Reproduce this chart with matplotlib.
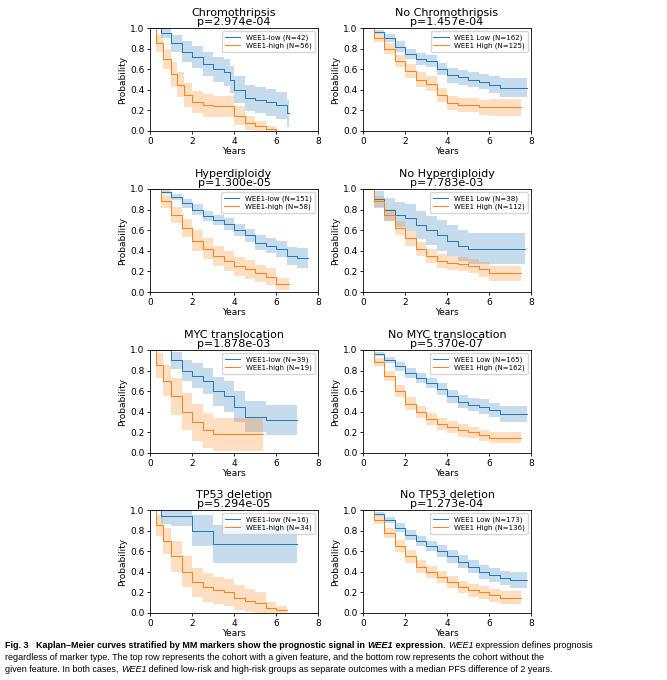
import numpy as np
import matplotlib.pyplot as plt

BLUE = '#1f77b4'
ORANGE = '#ff7f0e'

T8 = [0, .5, 1, 1.5, 2, 2.5, 3, 3.5, 4, 4.5, 5, 5.5, 6, 6.5, 7]

titles = ['Chromothripsis', 'No Chromothripsis', 'Hyperdiploidy', 'No Hyperdiploidy',
          'MYC translocation', 'No MYC translocation', 'TP53 deletion', 'No TP53 deletion']
pvals = ['2.974e-04', '1.457e-04', '1.300e-05', '7.783e-03',
         '1.878e-03', '5.370e-07', '5.294e-05', '1.273e-04']
n_low = [42, 162, 151, 38, 39, 165, 16, 173]
n_high = [56, 125, 58, 112, 19, 162, 34, 136]

# (times, survival, CI half-width)
low_curves = [
    ([0, .5, 1, 1.5, 2, 2.5, 3, 3.5, 3.8, 4, 4.5, 5, 5.5, 6, 6.5, 6.6],
     [1, .95, .85, .77, .72, .65, .6, .57, .5, .4, .32, .3, .28, .25, .17, .17],
     [0, .05, .08, .1, .11, .12, .12, .13, .13, .13, .13, .13, .13, .13, .13, .13]),
    (T8 + [7.8], [1, .96, .9, .82, .75, .7, .68, .6, .54, .52, .5, .48, .45, .42, .42, .42],
     [0, .02, .04, .05, .05, .06, .06, .06, .07, .07, .07, .07, .08, .09, .09, .09]),
    (T8 + [7.5], [1, .97, .92, .86, .8, .74, .7, .66, .6, .55, .48, .45, .42, .35, .33, .33],
     [0, .02, .03, .04, .05, .05, .05, .06, .06, .06, .07, .07, .08, .09, .1, .1]),
    ([0, .5, 1, 1.5, 2, 2.5, 3, 3.5, 4, 4.5, 5, 5.5, 6, 7.7],
     [1, .9, .8, .75, .72, .65, .6, .55, .5, .45, .42, .42, .42, .42],
     [0, .08, .11, .12, .13, .14, .14, .15, .15, .15, .15, .15, .15, .15]),
    ([0, .5, 1, 1.5, 2, 2.5, 3, 3.5, 4, 4.5, 5, 5.5, 6, 7],
     [1, 1, .9, .8, .75, .7, .6, .55, .45, .35, .35, .32, .32, .32],
     [0, 0, .08, .1, .12, .13, .14, .15, .15, .15, .15, .15, .15, .15]),
    (T8 + [7.8], [1, .96, .9, .84, .78, .73, .68, .62, .55, .5, .47, .45, .42, .38, .38, .38],
     [0, .02, .03, .04, .05, .05, .05, .06, .06, .06, .06, .07, .07, .08, .08, .08]),
    ([0, .5, 1, 1.5, 2, 3, 4, 5, 6, 7],
     [1, .94, .94, .94, .8, .67, .67, .67, .67, .67],
     [0, .08, .1, .1, .15, .18, .18, .18, .18, .18]),
    (T8 + [7.8], [1, .96, .9, .83, .76, .7, .65, .6, .55, .5, .45, .4, .37, .34, .32, .32],
     [0, .02, .03, .04, .05, .05, .05, .06, .06, .06, .06, .07, .07, .07, .08, .08]),
]
high_curves = [
    ([0, .3, .6, 1, 1.3, 1.6, 2, 2.5, 3, 3.5, 4, 4.5, 5, 5.5, 6],
     [1, .85, .7, .55, .45, .35, .28, .25, .24, .24, .15, .08, .05, .02, 0],
     [0, .08, .1, .12, .12, .12, .11, .11, .1, .1, .09, .07, .05, .03, .02]),
    ([0, .5, 1, 1.5, 2, 2.5, 3, 3.5, 4, 4.5, 5, 5.5, 6, 7.5],
     [1, .9, .8, .68, .58, .5, .46, .35, .27, .25, .25, .23, .23, .23],
     [0, .04, .05, .06, .07, .07, .07, .07, .07, .07, .07, .07, .08, .08]),
    ([0, .5, 1, 1.5, 2, 2.5, 3, 3.5, 4, 4.5, 5, 5.5, 6, 6.6],
     [1, .88, .75, .62, .5, .42, .35, .3, .25, .22, .18, .15, .08, .08],
     [0, .06, .08, .09, .1, .1, .1, .1, .09, .09, .08, .08, .06, .06]),
    ([0, .5, 1, 1.5, 2, 2.5, 3, 3.5, 4, 4.5, 5, 5.5, 6, 7.5],
     [1, .88, .75, .62, .52, .42, .35, .3, .28, .27, .25, .22, .18, .18],
     [0, .05, .06, .07, .07, .07, .07, .07, .07, .07, .07, .07, .07, .07]),
    ([0, .3, .6, 1, 1.5, 2, 2.5, 3, 3.5, 4, 4.5, 5, 5.4],
     [1, .85, .7, .55, .4, .3, .22, .18, .18, .18, .18, .18, .18],
     [0, .12, .15, .18, .18, .18, .17, .16, .16, .16, .16, .16, .16]),
    (T8 + [7.5], [1, .88, .75, .6, .48, .4, .33, .28, .25, .22, .2, .17, .15, .15, .15, .15],
     [0, .04, .05, .06, .06, .06, .06, .06, .06, .06, .05, .05, .05, .05, .05, .05]),
    ([0, .3, .6, 1, 1.5, 2, 2.5, 3, 3.5, 4, 4.5, 5, 5.5, 6, 6.5],
     [1, .85, .7, .55, .4, .3, .25, .22, .2, .15, .12, .1, .05, .03, .03],
     [0, .1, .13, .15, .15, .14, .14, .13, .13, .12, .11, .1, .06, .04, .04]),
    (T8 + [7.5], [1, .9, .78, .65, .55, .45, .4, .35, .3, .25, .22, .2, .17, .15, .15, .15],
     [0, .04, .05, .06, .06, .06, .06, .06, .06, .06, .06, .06, .06, .06, .06, .06]),
]


def draw_km(ax, curve, color, label):
    t, s, hw = (np.asarray(v, float) for v in curve)
    lo = np.clip(s - hw, 0, 1)
    hi = np.clip(s + hw, 0, 1)
    ax.fill_between(t, lo, hi, step='post', color=color, alpha=0.25, lw=0)
    ax.step(t, s, where='post', color=color, lw=0.7, label=label)


W, H = 667, 680
fig = plt.figure(figsize=(W / 100, H / 100), dpi=100)
plt.rcParams['font.family'] = 'DejaVu Sans'

col_x = [150, 363]
row_top = [28, 189, 350, 510]
aw, ah = 168, 103
for i in range(8):
    r, c = divmod(i, 2)
    ax = fig.add_axes([col_x[c] / W, 1 - (row_top[r] + ah) / H, aw / W, ah / H])
    if c == 0:
        ll, hl = f'WEE1-low (N={n_low[i]})', f'WEE1-high (N={n_high[i]})'
    else:
        ll, hl = f'WEE1 Low (N={n_low[i]})', f'WEE1 High (N={n_high[i]})'
    draw_km(ax, low_curves[i], BLUE, ll)
    draw_km(ax, high_curves[i], ORANGE, hl)
    ax.set_xlim(0, 8)
    ax.set_ylim(0, 1)
    ax.set_xticks([0, 2, 4, 6, 8])
    ax.set_yticks(np.arange(0, 1.01, 0.2))
    ax.tick_params(labelsize=6.5, length=2.5, pad=1.5, width=0.6)
    for sp in ax.spines.values():
        sp.set_linewidth(0.6)
    ax.set_xlabel('Years', fontsize=6.5, labelpad=1)
    ax.set_ylabel('Probability', fontsize=6.5, labelpad=2)
    ax.set_title(f'{titles[i]}\np={pvals[i]}', fontsize=8, linespacing=0.95, pad=2)
    ax.legend(loc='upper right', fontsize=5, frameon=True, handlelength=2.2,
              borderpad=0.4, labelspacing=0.3, fancybox=True, framealpha=0.8)

# caption with mixed styles
cap_lines = [
    [('Fig. 3   ', 'bold', 'normal'),
     ('Kaplan\u2013Meier curves stratified by MM markers show the prognostic signal in ', 'bold', 'normal'),
     ('WEE1', 'bold', 'italic'), (' expression. ', 'bold', 'normal'),
     ('WEE1', 'normal', 'italic'), (' expression defines prognosis', 'normal', 'normal')],
    [('regardless of marker type. The top row represents the cohort with a given feature, and the bottom row represents the cohort without the', 'normal', 'normal')],
    [('given feature. In both cases, ', 'normal', 'normal'), ('WEE1', 'normal', 'italic'),
     (' defined low-risk and high-risk groups as separate outcomes with a median PFS difference of 2 years.', 'normal', 'normal')],
]
fig.canvas.draw()
renderer = fig.canvas.get_renderer()
y0 = 646
for line in cap_lines:
    x = 5
    for txt, wt, st in line:
        t = fig.text(x / W, 1 - y0 / H, txt, fontsize=6.5, fontweight=wt, fontstyle=st,
                     family='Liberation Sans', va='center', ha='left')
        bb = t.get_window_extent(renderer)
        x += bb.width
    y0 += 12

fig.savefig('out.png', dpi=100)
